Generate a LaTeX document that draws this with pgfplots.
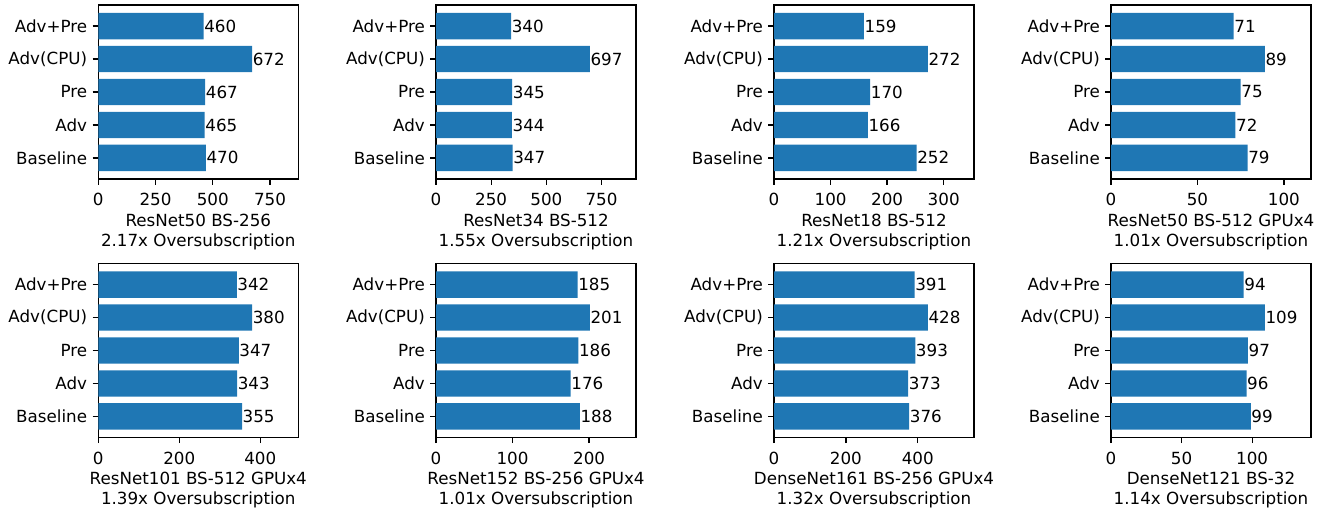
\documentclass[border=0pt]{standalone}
\usepackage{fontspec}
\setmainfont{DejaVu Sans}
\usepackage{pgfplots}
\pgfplotsset{compat=1.18}
\definecolor{mplblue}{HTML}{1F77B4}
\newcommand{\myfont}{\fontsize{11.7}{14}\selectfont}
\pgfplotsset{
  mybar/.style={
    xbar, scale only axis, width=140pt, height=121.8pt,
    anchor=south west,
    xmin=0, ymin=-0.64, ymax=4.64,
    ytick={0,1,2,3,4}, yticklabels={Baseline,Adv,Pre,Adv(CPU),Adv+Pre},
    bar width=0.8,
    tick align=outside, xtick pos=lower, ytick pos=left,
    major tick length=4pt,
    tick style={black, line width=0.9pt},
    axis line style={line width=0.9pt},
    point meta=x,
    nodes near coords, nodes near coords align=horizontal,
    every node near coord/.append style={anchor=west, inner sep=0pt, xshift=0.3pt, font=\myfont, text=black},
    /pgf/number format/assume math mode=true,
    /pgf/number format/fixed, /pgf/number format/precision=0,
    ticklabel style={font=\myfont},
    xticklabel style={yshift=-2.5pt},
    yticklabel style={xshift=-0.3pt},
    xlabel style={align=center, font=\myfont, yshift=1.2pt},
    scaled x ticks=false,
  }
}
\begin{document}
\begin{tikzpicture}
\path[use as bounding box] (0,0) rectangle (925.4pt,356.3pt);
% Row 1
\begin{axis}[mybar, at={(68.8pt,231pt)}, xmax=873.6, xtick={0,250,500,750},
  xlabel={ResNet50 BS-256\\2.17x Oversubscription}]
\addplot[fill=mplblue, draw=none] coordinates {(470,0) (465,1) (467,2) (672,3) (460,4)};
\end{axis}
\begin{axis}[mybar, at={(305.2pt,231pt)}, xmax=906.1, xtick={0,250,500,750},
  xlabel={ResNet34 BS-512\\1.55x Oversubscription}]
\addplot[fill=mplblue, draw=none] coordinates {(347,0) (344,1) (345,2) (697,3) (340,4)};
\end{axis}
\begin{axis}[mybar, at={(541.8pt,231pt)}, xmax=353.6, xtick={0,100,200,300},
  xlabel={ResNet18 BS-512\\1.21x Oversubscription}]
\addplot[fill=mplblue, draw=none] coordinates {(252,0) (166,1) (170,2) (272,3) (159,4)};
\end{axis}
\begin{axis}[mybar, at={(777.7pt,231pt)}, xmax=115.7, xtick={0,50,100},
  xlabel={ResNet50 BS-512 GPUx4\\1.01x Oversubscription}]
\addplot[fill=mplblue, draw=none] coordinates {(79,0) (72,1) (75,2) (89,3) (71,4)};
\end{axis}
% Row 2
\begin{axis}[mybar, at={(68.8pt,50.05pt)}, xmax=494, xtick={0,200,400},
  xlabel={ResNet101 BS-512 GPUx4\\1.39x Oversubscription}]
\addplot[fill=mplblue, draw=none] coordinates {(355,0) (343,1) (347,2) (380,3) (342,4)};
\end{axis}
\begin{axis}[mybar, at={(305.2pt,50.05pt)}, xmax=261.3, xtick={0,100,200},
  xlabel={ResNet152 BS-256 GPUx4\\1.01x Oversubscription}]
\addplot[fill=mplblue, draw=none] coordinates {(188,0) (176,1) (186,2) (201,3) (185,4)};
\end{axis}
\begin{axis}[mybar, at={(541.8pt,50.05pt)}, xmax=556.4, xtick={0,200,400},
  xlabel={DenseNet161 BS-256 GPUx4\\1.32x Oversubscription}]
\addplot[fill=mplblue, draw=none] coordinates {(376,0) (373,1) (393,2) (428,3) (391,4)};
\end{axis}
\begin{axis}[mybar, at={(777.7pt,50.05pt)}, xmax=141.7, xtick={0,50,100},
  xlabel={DenseNet121 BS-32\\1.14x Oversubscription}]
\addplot[fill=mplblue, draw=none] coordinates {(99,0) (96,1) (97,2) (109,3) (94,4)};
\end{axis}
\end{tikzpicture}
\end{document}
